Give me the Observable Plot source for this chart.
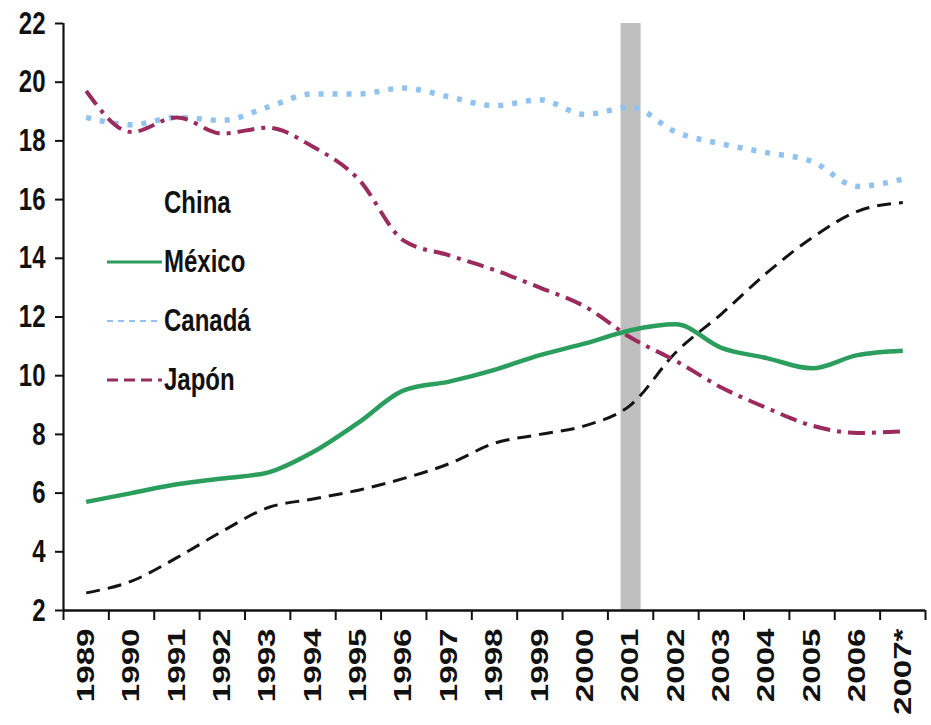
<!DOCTYPE html>
<html><head><meta charset="utf-8">
<script src="https://cdn.jsdelivr.net/npm/d3@7"></script>
<script src="https://cdn.jsdelivr.net/npm/@observablehq/plot@0.6"></script>
<style>
body{margin:0;background:#fff;}
#wrap{position:relative;width:931px;height:725px;font-family:"Liberation Sans",Arial,sans-serif;}
#legend{position:absolute;left:0;top:0;width:0;height:0;}
.item{position:absolute;left:104px;height:30px;display:flex;align-items:center;font-weight:bold;font-size:24px;color:#111;white-space:nowrap;}
.item svg{display:block;margin-right:2px;}
.item span{display:inline-block;transform:scaleY(1.3);transform-origin:left center;}
</style>
</head><body><div id="wrap"><div id="legend"></div></div>
<script>
const years = [1989,1990,1991,1992,1993,1994,1995,1996,1997,1998,1999,2000,2001,2002,2003,2004,2005,2006,2007];
const yearLabels = ["1989","1990","1991","1992","1993","1994","1995","1996","1997","1998","1999","2000","2001","2002","2003","2004","2005","2006","2007*"];
const seriesNames = ["China","México","Canadá","Japón"];
const china  = [2.6,3.0,3.8,4.7,5.5,5.8,6.1,6.5,7.0,7.7,8.0,8.3,9.0,10.8,12.1,13.5,14.7,15.6,15.9];
const mexico = [5.7,6.0,6.3,6.5,6.7,7.4,8.4,9.5,9.8,10.2,10.7,11.1,11.55,11.75,10.95,10.6,10.25,10.7,10.85];
const canada = [18.8,18.55,18.8,18.7,19.15,19.6,19.6,19.8,19.5,19.2,19.4,18.9,19.15,18.3,17.9,17.6,17.3,16.45,16.7];
const japon  = [19.7,18.3,18.8,18.25,18.45,17.8,16.7,14.6,14.1,13.6,13.0,12.35,11.3,10.5,9.6,8.9,8.3,8.05,8.1];
const highlightYears = [2001];
const yTicks = [2,4,6,8,10,12,14,16,18,20,22];

const valuesBySeries = {"China": china, "México": mexico, "Canadá": canada, "Japón": japon};
const styles = {
  "China":  {stroke:"#141414", strokeWidth:3, strokeDasharray:"14,8", legend:null},
  "Canadá": {stroke:"#90c3f1", strokeWidth:5.5, strokeDasharray:"5,9", legend:{dash:"6,5", w:2}},
  "Japón":  {stroke:"#9b2a5d", strokeWidth:4, strokeDasharray:"17,7,4,7", legend:{dash:"11,6", w:3}},
  "México": {stroke:"#2b9d5c", strokeWidth:4.5, strokeDasharray:null, legend:{dash:null, w:3}}
};
const rows = seriesNames.flatMap(s => years.map((y,i) => ({series:s, year:y, value:valuesBySeries[s][i]})));
const labelOf = new Map(years.map((y,i)=>[y, yearLabels[i]]));
const bounds = d3.range(years[0]-0.5, years[years.length-1]+1, 1);
const drawOrder = ["China","Canadá","Japón","México"];

const plot = Plot.plot({
  width: 931, height: 725,
  marginLeft: 63, marginRight: 6, marginTop: 23, marginBottom: 115,
  style: {fontFamily:'"Liberation Sans", Arial, sans-serif', fontSize:"24px", fontWeight:"bold", color:"#111", background:"#fff"},
  x: {domain:[years[0]-0.5, years[years.length-1]+0.5]},
  y: {domain:[2,22]},
  marks: [
    Plot.ruleX(highlightYears, {x: d=>d, stroke:"#bfbfbf", strokeWidth:20}),
    ...drawOrder.map(s => Plot.line(rows.filter(r=>r.series===s), {
      x:"year", y:"value", curve:"monotone-x",
      stroke: styles[s].stroke, strokeWidth: styles[s].strokeWidth,
      strokeDasharray: styles[s].strokeDasharray || undefined,
      strokeLinecap:"butt"
    })),
    Plot.axisY({ticks: yTicks, tickSize:8, tickPadding:10, stroke:"#111", strokeWidth:2, label:null, fontSize:24, fontWeight:"bold"}),
    Plot.axisX({ticks: bounds, tickSize:10, tickFormat:()=>"", stroke:"#111", strokeWidth:2, label:null}),
    Plot.axisX({ticks: years, tickSize:0, tickPadding:18, tickRotate:-90, tickFormat:d=>labelOf.get(d), label:null, fontSize:24, fontWeight:"bold"}),
    Plot.ruleX([years[0]-0.5], {stroke:"#111", strokeWidth:2.2}),
    Plot.ruleY([2], {stroke:"#111", strokeWidth:2.5})
  ]
});

function stretch(sel, sc){
  plot.querySelectorAll(sel).forEach(t=>{
    let tr = t.getAttribute("transform");
    if(!tr){
      const x = t.getAttribute("x")||0, y = t.getAttribute("y")||0;
      tr = `translate(${x},${y})`; t.removeAttribute("x"); t.removeAttribute("y");
    }
    t.setAttribute("transform", tr + " " + sc);
  });
}
stretch('g[aria-label="y-axis tick label"] text', "scale(1,1.32)");
stretch('g[aria-label="x-axis tick label"] text', "scale(1.38,1)");

document.getElementById("wrap").prepend(plot);

const legendTops = {"China":188, "México":247, "Canadá":306, "Japón":365};
const leg = document.getElementById("legend");
seriesNames.forEach(s=>{
  const d = document.createElement("div");
  d.className = "item"; d.style.top = legendTops[s]+"px";
  const st = styles[s].legend;
  const ns = "http://www.w3.org/2000/svg";
  const sv = document.createElementNS(ns,"svg");
  sv.setAttribute("width",58); sv.setAttribute("height",10);
  if(st){
    const l = document.createElementNS(ns,"line");
    l.setAttribute("x1",3); l.setAttribute("x2",58); l.setAttribute("y1",5); l.setAttribute("y2",5);
    l.setAttribute("stroke", styles[s].stroke); l.setAttribute("stroke-width", st.w);
    if(st.dash) l.setAttribute("stroke-dasharray", st.dash);
    sv.appendChild(l);
  }
  d.appendChild(sv);
  const sp = document.createElement("span"); sp.textContent = s;
  d.appendChild(sp);
  leg.appendChild(d);
});
</script>
</body></html>
